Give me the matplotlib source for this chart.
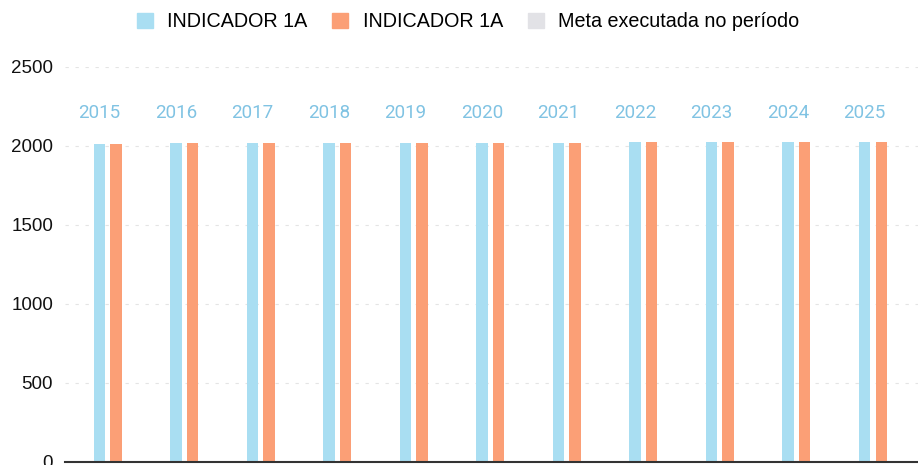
import numpy as np
import matplotlib
matplotlib.use('Agg')
import matplotlib.pyplot as plt
from matplotlib.patches import Patch

# data
years = ['2015', '2016', '2017', '2018', '2019', '2020',
         '2021', '2022', '2023', '2024', '2025']
serie_a = [2015, 2016, 2017, 2018, 2019, 2020, 2021, 2022, 2023, 2024, 2025]
serie_b = [2015, 2016, 2017, 2018, 2019, 2020, 2021, 2022, 2023, 2024, 2025]
meta = [0, 0, 0, 0, 0, 0, 0, 0, 0, 0, 0]
labels = ['INDICADOR 1A', 'INDICADOR 1A', 'Meta executada no período']

c_blue = '#a9def2'
c_orange = '#fb9f76'
c_gray = '#e2e2e6'

plt.rcParams['font.family'] = ['Liberation Sans', 'DejaVu Sans']

fig = plt.figure(figsize=(9.18, 4.65), dpi=100)
ax = fig.add_axes([0.0708, 0.0065, 0.9292, 0.8495])

x = np.arange(len(years))
off = 0.216
w = 0.15
ax.bar(x - off, serie_a, w, color=c_blue, zorder=2)
ax.bar(x, serie_b, w, color=c_orange, zorder=2)
ax.bar(x + off, meta, w, color=c_gray, zorder=2)

# year labels above the groups
for i in range(len(years)):
    ax.text(x[i] - off, 2210, years[i], ha='center', va='center',
            fontsize=13.5, color='#80c3e3', family=['Roboto', 'DejaVu Sans'])

ax.set_ylim(0, 2500)
ax.set_xlim(-0.667, 10.48)
ax.set_yticks([0, 500, 1000, 1500, 2000, 2500])
ax.set_xticks([])
ax.tick_params(axis='y', length=0, pad=8.6, labelsize=13.5, labelcolor='#111111')
ax.yaxis.grid(True, color='#e4e4e4', linestyle=(0, (3, 6)), linewidth=0.8, zorder=0)
for s in ['top', 'right', 'left']:
    ax.spines[s].set_visible(False)
ax.spines['bottom'].set_color('#333333')
ax.spines['bottom'].set_linewidth(1.5)

handles = [Patch(color=c_blue), Patch(color=c_orange), Patch(color=c_gray)]
fig.legend(handles, labels, loc='center', bbox_to_anchor=(0.51, 0.953), ncol=3,
           frameon=False, fontsize=14.2, handlelength=0.8, handleheight=0.8,
           handletextpad=0.75, columnspacing=1.25)

plt.savefig('out.png', dpi=100)
plt.close()
